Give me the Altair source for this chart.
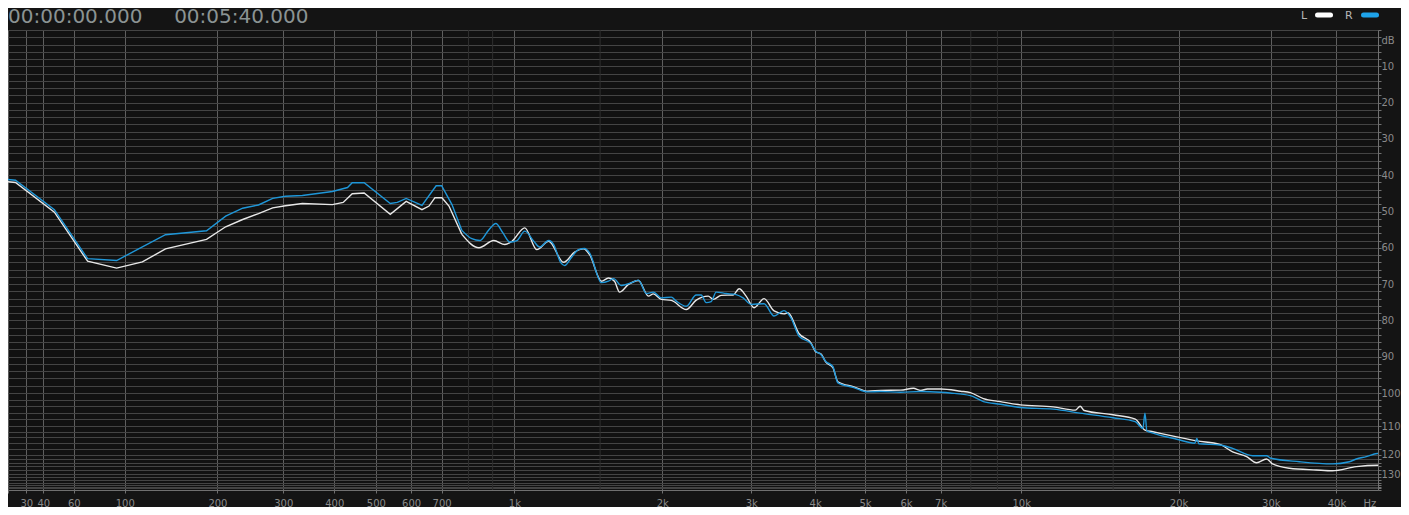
import altair as alt
import pandas as pd

# ---- data ----
freq_L = [20, 24, 47, 70, 93, 116, 139, 186, 211, 235, 259, 282, 304, 335, 396, 420, 441, 470,
          539, 585, 634, 657, 677, 701, 726, 774, 842, 905, 955, 988, 1051, 1113, 1178, 1264,
          1331, 1389, 1428, 1510, 1560, 1604, 1642, 1712, 1792, 1877, 1920, 1992, 2085, 2233,
          2337, 2468, 2525, 2618, 2764, 2840, 2931, 3039, 3179, 3325, 3477, 3540, 3719, 3924,
          4013, 4103, 4196, 4330, 4428, 4756, 5060, 5362, 5861, 6200, 6404, 6600, 7000, 7644,
          7987, 8460, 9120, 9958, 11514, 12700, 12970, 13200, 14989, 16532, 17252, 17869,
          19847, 21675, 23967, 25368, 26972, 28183, 29432, 30222, 32547, 36646, 39293,
          43646, 47839, 48000]
db_L = [41.8, 42.0, 50.2, 63.7, 65.6, 63.9, 60.3, 57.7, 54.2, 52.2, 50.6, 49.0, 48.4, 47.8, 48.1,
        47.5, 45.1, 44.9, 50.8, 47.2, 49.5, 48.5, 46.2, 46.2, 48.5, 56.3, 60.0, 58.0, 59.1, 58.2,
        54.5, 60.5, 58.2, 64.0, 61.2, 60.3, 61.9, 69.2, 68.3, 69.2, 72.2, 70.1, 69.0, 73.3, 72.7,
        74.2, 74.5, 77.0, 74.4, 73.3, 74.2, 73.1, 73.0, 71.3, 73.3, 76.5, 74.0, 77.4, 78.2, 77.9,
        83.6, 86.2, 88.7, 89.2, 91.5, 93.0, 96.9, 98.3, 99.5, 99.3, 99.2, 98.7, 99.3, 98.9, 98.9,
        99.5, 99.9, 101.7, 102.6, 103.6, 104.2, 105.2, 104.0, 105.3, 106.6, 107.9, 111.4, 112.0,
        113.8, 115.2, 116.4, 119.0, 121.0, 124.1, 122.2, 124.7, 126.9, 127.8, 128.2,
        126.1, 125.4, 125.4]

freq_R = [20, 24, 47, 70, 93, 139, 186, 211, 235, 259, 282, 304, 335, 396, 430, 441, 470, 539,
          559, 585, 634, 681, 700, 737, 774, 813, 846, 884, 914, 946, 978, 1012, 1051, 1097,
          1129, 1178, 1206, 1247, 1270, 1313, 1356, 1395, 1428, 1510, 1560, 1597, 1657, 1735,
          1792, 1860, 1920, 1992, 2085, 2134, 2233, 2337, 2390, 2445, 2502, 2559, 2678, 2801,
          2891, 3000, 3179, 3325, 3477, 3588, 3719, 3924, 4013, 4103, 4196, 4330, 4428, 4756,
          5060, 5362, 5861, 6404, 7000, 7300, 7987, 8460, 9120, 9958, 11514, 12969, 14989,
          16532, 17100, 17252, 17400, 17869, 19847, 21480, 21675, 21870, 23967, 25368, 27694,
          29432, 30000, 34017, 39293, 42327, 43646, 45589, 47839, 48000]
db_R = [41.2, 41.4, 49.5, 63.0, 63.5, 56.4, 55.3, 51.3, 49.1, 48.2, 46.4, 45.8, 45.6, 44.5, 43.4,
        42.1, 42.1, 47.8, 47.5, 46.4, 48.3, 42.9, 42.9, 48.1, 55.2, 57.5, 58.0, 55.0, 53.3, 55.9,
        58.4, 58.0, 55.4, 58.2, 59.8, 58.0, 59.1, 64.1, 64.9, 62.6, 60.5, 60.2, 61.4, 69.6, 69.2,
        68.5, 70.4, 69.6, 68.9, 72.6, 72.2, 73.8, 73.6, 74.7, 76.1, 73.0, 73.0, 75.1, 74.8, 72.2,
        72.6, 72.9, 73.8, 75.6, 75.4, 78.8, 77.3, 79.3, 84.3, 86.4, 88.5, 89.4, 91.3, 92.7, 97.2,
        98.5, 99.7, 99.6, 99.8, 99.6, 99.8, 100.0, 100.8, 102.6, 103.4, 104.4, 104.9, 106.1,
        107.5, 108.7, 110.8, 106.1, 111.7, 112.5, 114.6, 116.0, 114.3, 116.2, 116.6, 117.8,
        120.5, 120.5, 121.8, 123.6, 124.7, 123.6, 122.2, 121.0, 119.6, 119.6]

channels = ["L", "R"]
channel_colors = ["#e8e8e8", "#1f97d9"]
pill_colors = ["#ffffff", "#1ea3ea"]
smooth_from = 774   # above this frequency the analyser trace is smoothed
x_ticks = [20, 30, 40, 60, 100, 200, 300, 400, 500, 600, 700, 1000, 2000, 3000, 4000, 5000,
           6000, 7000, 10000, 20000, 30000, 40000, 46200]
minor_freqs = [800, 900, 1500, 8000, 9000, 15000]
y_ticks = sorted(list(range(0, 145, 2)) + [3])
y_domain = [0, 100, 110, 120, 130, 132, 134, 136, 138, 140, 142, 144]
title_text = "00:00:00.000" + "\u00a0" * 5 + "00:05:40.000"

W, H = 1370, 460
y_range = [0, 363, 396, 424.7, 444.3, 447.3, 450, 452.7, 454.7, 456.7, 458.3, 460]

df = pd.concat([
    pd.DataFrame({"freq": freq_L, "db": db_L, "ch": "L"}),
    pd.DataFrame({"freq": freq_R, "db": db_R, "ch": "R"}),
])

xscale = alt.Scale(type="symlog", constant=100, domain=[20, 48000], nice=False, zero=False)
yscale = alt.Scale(type="linear", domain=y_domain, range=y_range, nice=False, zero=False)
cscale = alt.Scale(domain=channels, range=channel_colors)

FONT = "DejaVu Sans"

xaxis = alt.Axis(
    values=x_ticks, orient="bottom", title=None,
    labelExpr="datum.value == 20 ? '' : datum.value == 46200 ? 'Hz' : "
              "datum.value >= 1000 ? (datum.value / 1000) + 'k' : '' + datum.value",
    grid=True, gridColor="#5e5e5e", gridWidth=1,
    gridOpacity={"condition": {"test": "datum.value == 20 || datum.value == 46200", "value": 0}, "value": 1},
    tickOpacity={"condition": {"test": "datum.value == 46200", "value": 0}, "value": 1},
    tickSize=3, tickColor="#707070", domainColor="#707070",
    labelColor="#8a8a8a", labelFont=FONT, labelFontSize=10, labelPadding=5,
    labelOverlap=False, labelFlush=False, labelBound=False,
)
yaxis = alt.Axis(
    values=y_ticks, orient="right", title=None,
    labelExpr="datum.value == 3 ? 'dB' : (datum.value % 10 == 0 && datum.value > 0 && datum.value <= 130) ? '' + datum.value : ''",
    grid=True, gridColor="#444444", gridWidth=1,
    gridOpacity={"condition": {"test": "datum.value == 3", "value": 0}, "value": 1},
    tickOpacity={"condition": {"test": "datum.value == 3", "value": 0}, "value": 1},
    tickSize=3, tickColor="#707070", domainColor="#707070",
    labelColor="#8a8a8a", labelFont=FONT, labelFontSize=10, labelPadding=0,
    labelAlign="left", labelBaseline="middle",
    labelOverlap=False, labelFlush=False, labelBound=False,
)

faint = alt.Chart(pd.DataFrame({"freq": minor_freqs})).mark_rule(
    color="#2f2f2f", strokeWidth=1
).encode(x=alt.X("freq:Q", scale=xscale, axis=xaxis))

enc = dict(
    x=alt.X("freq:Q", scale=xscale, axis=xaxis),
    y=alt.Y("db:Q", scale=yscale, axis=yaxis),
    color=alt.Color("ch:N", scale=cscale, legend=None),
    order=alt.Order("freq:Q"),
)
lines_low = alt.Chart(df).transform_filter(alt.datum.freq <= smooth_from).mark_line(
    strokeWidth=1.4, interpolate="linear").encode(**enc)
lines_high = alt.Chart(df).transform_filter(alt.datum.freq >= smooth_from).mark_line(
    strokeWidth=1.4, interpolate="monotone").encode(**enc)

title = alt.Chart(pd.DataFrame({"t": [title_text]})).mark_text(
    align="left", baseline="alphabetic", font=FONT, fontSize=20, color="#8b9393"
).encode(text="t:N", x=alt.value(0), y=alt.value(-7))

# legend (label, then rounded pill), placed above the plot's right end
legend_layers = []
text_x = [W - 77, W - 33]
pill_x = [(W - 60.5, W - 47.5), (W - 14.5, W - 1.5)]
for name, pc, tx, (px1, px2) in zip(channels, pill_colors, text_x, pill_x):
    legend_layers.append(
        alt.Chart(pd.DataFrame({"t": [name]})).mark_text(
            align="left", baseline="middle", font=FONT, fontSize=11, color="#b8b8b8"
        ).encode(text="t:N", x=alt.value(tx), y=alt.value(-14))
    )
    legend_layers.append(
        alt.Chart(pd.DataFrame({"t": [name]})).mark_rule(
            strokeWidth=5, strokeCap="round", color=pc
        ).encode(x=alt.value(px1), x2=alt.value(px2), y=alt.value(-15))
    )

chart = alt.layer(faint, lines_low, lines_high, title, *legend_layers).properties(
    width=W, height=H
).configure(
    background="#141414",
    padding={"left": 0, "top": 22, "right": 23, "bottom": 17},
    autosize=alt.AutoSizeParams(type="none"),
).configure_view(stroke="#5c5c5c", fill="#111111", strokeWidth=1)

chart.save("out.html", embed_options={"renderer": "svg", "actions": False})
